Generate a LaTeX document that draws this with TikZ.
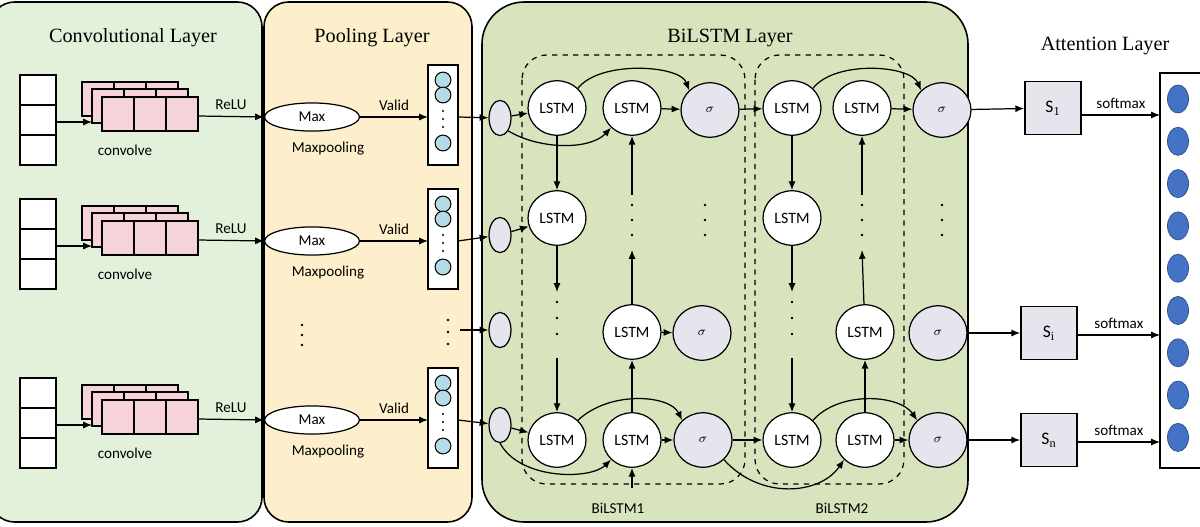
\documentclass[tikz,border=0pt]{standalone}
\usepackage{fontspec}
\setmainfont{Liberation Serif}
\newfontfamily\carl{Carlito}
\usetikzlibrary{shapes.geometric,arrows.meta}
\definecolor{convg}{HTML}{E3F0DA}
\definecolor{poolc}{HTML}{FDEFCB}
\definecolor{lstmg}{HTML}{D7E4BD}
\definecolor{pinkc}{HTML}{F6D3D8}
\definecolor{cyanc}{HTML}{B4DCE6}
\definecolor{greyc}{HTML}{E6E5EE}
\definecolor{bluec}{HTML}{4472C4}
\begin{document}
\begin{tikzpicture}[x=0.02cm,y=-0.02cm,
  panel/.style={draw=black,line width=0.9pt,rounded corners=14pt},
  title/.style={font=\fontsize{11.5}{12}\selectfont},
  lab/.style={font=\carl\fontsize{8.6}{9}\selectfont},
  arr/.style={-{Latex[length=5pt,width=4pt]},line width=0.7pt},
  lstm/.style={ellipse,draw,fill=white,line width=0.7pt,minimum width=33pt,minimum height=31pt,inner sep=0pt,font=\carl\fontsize{9}{9}\selectfont},
  sig/.style={ellipse,draw,fill=greyc,line width=0.7pt,minimum width=33pt,minimum height=31pt,inner sep=0pt,font=\fontsize{7}{7}\selectfont},
  sml/.style={ellipse,draw,fill=greyc,line width=0.7pt,minimum width=12.5pt,minimum height=20pt,inner sep=0pt},
  maxe/.style={ellipse,draw,fill=white,line width=0.7pt,minimum width=54pt,minimum height=16pt,inner sep=0pt,font=\carl\fontsize{8.6}{9}\selectfont},
  sbox/.style={draw,fill=greyc,line width=0.8pt,minimum width=32pt,minimum height=30pt,inner sep=0pt,font=\carl\fontsize{10}{10}\selectfont},
  cell/.style={draw,line width=0.7pt},
  pc/.style={draw,circle,fill=cyanc,minimum size=9pt,inner sep=0pt,line width=0.6pt},
  dot/.style={circle,fill=black,inner sep=0pt,minimum size=1.6pt},
  dbox/.style={dashed,line width=0.7pt,rounded corners=14pt}]
\useasboundingbox (0,0) rectangle (1200,527);
% panels
\path[panel,fill=convg] (-10,2) rectangle (262,522);
\path[panel,fill=poolc] (264,2) rectangle (472,522);
\path[panel,fill=lstmg,rounded corners=24pt] (482,2) rectangle (968,522);
\node[title] (t1) at (133,38) {Convolutional Layer};
\node[title] (t2) at (372,38) {Pooling Layer};
\node[title] (t3t) at (730,38) {BiLSTM Layer};
\node[title] (t4) at (1105,46) {Attention Layer};
% conv + pool rows
\foreach \r/\i in {117/1,241/2,420/3}{
  \foreach \k in {0,1,2}{\draw[cell,fill=white] (20,\r-42+30*\k) rectangle (56,\r-12+30*\k);}
  \foreach \dx/\dy in {82/-35,92/-28,102/-20}{
    \foreach \k in {0,1,2}{\draw[cell,fill=pinkc] (\dx+32*\k,\r+\dy) rectangle (\dx+32*\k+32,\r+\dy+34);}
  }
  \coordinate (in\i) at (56,\r+5);
  \coordinate (fm\i) at (92,\r+5);
  \coordinate (fr\i) at (198,\r-1);
  \draw[arr] (in\i) -- (fm\i);
  \node[lab] (cv\i) at (125,\r+33) {convolve};
  \node[maxe] (mx\i) at (312,\r) {Max};
  \draw[arr] (fr\i) -- node[lab,above,pos=0.5] {ReLU} (mx\i.west);
  \node[lab] (mp\i) at (328,\r+32) {Maxpooling};
  \draw[cell,fill=white] (428,\r-52) rectangle (458,\r+48);
  \node[pc] (c\i a) at (443,\r-37) {};
  \node[pc] (c\i b) at (443,\r-22) {};
  \node[pc] (c\i c) at (443,\r+26) {};
  \foreach \d in {-6,2,10}{\node[dot,minimum size=1.3pt] at (443,\r+\d) {};}
  \coordinate (col\i) at (428,\r);
  \coordinate (colo\i) at (458,\r);
  \draw[arr] (mx\i.east) -- node[lab,above] {Valid} (col\i);
}
\foreach \y in {325,335,345}{\node[dot] at (302,\y) {};}
\foreach \y in {320,332,344}{\node[dot] at (448,\y) {};}
% BiLSTM
\draw[dbox] (522,55) rectangle (745,484);
\draw[dbox] (755,55) rectangle (904,484);
\node[sml] (e1) at (500,118) {};
\node[sml] (e2) at (500,235) {};
\node[sml] (e3) at (500,330) {};
\node[sml] (e4) at (500,425) {};
\draw[arr] (colo1) -- (e1);
\draw[arr] (colo2) -- (e2);
\coordinate (dm) at (460,330);
\draw[arr] (dm) -- (e3);
\draw[arr] (colo3) -- (e4);
\node[lstm] (a1) at (557,108) {LSTM};
\node[lstm] (b1) at (632,108) {LSTM};
\node[sig] (s1) at (710,110) {$\sigma$};
\node[lstm] (c1) at (792,108) {LSTM};
\node[lstm] (d1) at (862,108) {LSTM};
\node[sig] (t1s) at (942,110) {$\sigma$};
\node[lstm] (a2) at (557,218) {LSTM};
\node[lstm] (c2) at (792,218) {LSTM};
\node[lstm] (bm) at (632,332) {LSTM};
\node[sig] (sm) at (702,333) {$\sigma$};
\node[lstm] (dm2) at (865,332) {LSTM};
\node[sig] (tm) at (938,333) {$\sigma$};
\node[lstm] (a3) at (557,440) {LSTM};
\node[lstm] (b3) at (632,440) {LSTM};
\node[sig] (s3) at (703,440) {$\sigma$};
\node[lstm] (c3) at (792,440) {LSTM};
\node[lstm] (d3) at (865,440) {LSTM};
\node[sig] (t3) at (938,440) {$\sigma$};
% row 1
\draw[arr] (e1) -- (a1);
\draw[arr] (e1.south east) .. controls (540,150) and (590,150) .. (b1.south west);
\draw[arr] (a1.north east) .. controls (600,60) and (680,65) .. (s1.north west);
\draw[arr] (b1) -- (s1);
\draw[arr] (s1) -- (c1);
\draw[arr] (c1.north east) .. controls (835,60) and (910,65) .. (t1s.north west);
\draw[arr] (d1) -- (t1s);
\draw[arr] (e2) -- (a2);
\draw[arr] (a1) -- (a2);
\draw[arr] (c1) -- (c2);
% vertical chains with dots
\foreach \x/\tp/\bt in {557/a2/a3,792/c2/c3}{
  \coordinate (p\tp) at (\x,292);
  \coordinate (q\tp) at (\x,358);
  \draw[arr] (\tp) -- (p\tp);
  \foreach \y in {302,318,334}{\node[dot] at (\x,\y) {};}
  \draw[arr] (q\tp) -- (\bt);
}
\foreach \x/\ua/\la in {632/b1/bm,862/d1/dm2}{
  \coordinate (u\ua) at (\x,195);
  \coordinate (w\ua) at (\x,250);
  \draw[arr] (u\ua) -- (\ua);
  \foreach \y in {205,220,235}{\node[dot] at (\x,\y) {};}
  \draw[arr] (\la) -- (w\ua);
}
\foreach \x in {705,942}{\foreach \y in {205,220,235}{\node[dot] at (\x,\y) {};}}
\draw[arr] (bm) -- (sm);
% bottom row
\draw[arr] (e4) -- (a3);
\draw[arr] (e4.south) .. controls (520,480) and (590,480) .. (b3.south west);
\draw[arr] (a3.north east) .. controls (610,390) and (670,395) .. (s3.north west);
\draw[arr] (b3) -- (s3);
\draw[arr] (b3) -- (bm);
\coordinate (bin) at (632,488);
\draw[arr] (bin) -- (b3);
\draw[arr] (s3) -- (c3);
\draw[arr] (s3.south east) .. controls (760,500) and (820,495) .. (d3.south west);
\draw[arr] (c3.north east) .. controls (840,390) and (900,395) .. (t3.north west);
\draw[arr] (d3) -- (t3);
\draw[arr] (d3) -- (dm2);
\node[lab] (l1) at (618,508) {BiLSTM1};
\node[lab] (l2) at (842,508) {BiLSTM2};
% attention
\node[sbox] (S1) at (1053,108) {S$_{\mathrm{1}}$};
\node[sbox] (Si) at (1049,333) {S$_{\mathrm{i}}$};
\node[sbox] (Sn) at (1049,440) {S$_{\mathrm{n}}$};
\draw[arr] (t1s) -- (S1);
\draw[arr] (tm) -- (Si);
\draw[arr] (t3) -- (Sn);
\draw[line width=0.9pt,fill=white] (1160,73) rectangle (1205,468);
\foreach \k in {0,...,8}{\node[ellipse,draw=bluec!70!black,fill=bluec,minimum width=12pt,minimum height=16pt,inner sep=0pt] (o\k) at (1178,99+42.3*\k) {};}
\coordinate (z1) at (1160,115);
\coordinate (zi) at (1160,335);
\coordinate (zn) at (1160,442);
\draw[arr] (S1.east |- z1) -- node[lab,above] {softmax} (z1);
\draw[arr] (Si.east |- zi) -- node[lab,above] {softmax} (zi);
\draw[arr] (Sn.east |- zn) -- node[lab,above] {softmax} (zn);
\end{tikzpicture}
\end{document}
